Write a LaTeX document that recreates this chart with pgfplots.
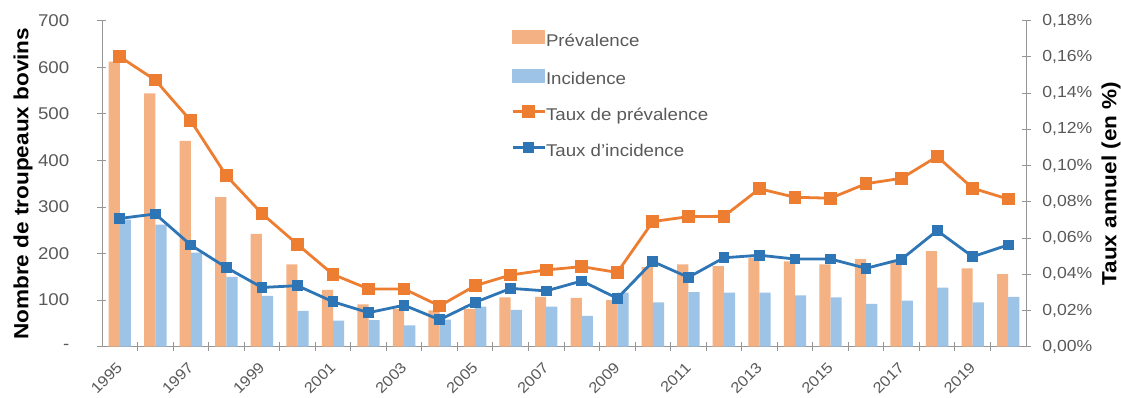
\documentclass[border=0pt]{standalone}
\usepackage{pgfplots}
\usepackage{pgfplotstable}
\pgfplotsset{compat=1.18}
\usepackage{fontspec}
\setmainfont{Liberation Sans}[FakeStretch=1.1]
\setsansfont{Liberation Sans}[FakeStretch=1.1]

\definecolor{prevbar}{RGB}{244,177,131}
\definecolor{incbar}{RGB}{157,195,230}
\definecolor{prevline}{RGB}{237,125,49}
\definecolor{incline}{RGB}{46,117,182}
\definecolor{axisgray}{RGB}{150,150,150}
\definecolor{labelgray}{RGB}{89,89,89}

\pgfplotsset{
  wide line legend/.style={
    legend image code/.code={
      \draw[##1, mark repeat=2, mark phase=2] plot coordinates {(0pt,4.5pt) (16pt,4.5pt) (32pt,4.5pt)};
    }
  },
}

% idx: position on the x axis; prev/inc: number of herds; tprev/tinc: annual rate in %
\pgfplotstableread{
idx year prev inc tprev tinc
0  1995 612 273 0.1601 0.0708
1  1996 544 262 0.1472 0.0733
2  1997 442 202 0.1247 0.0561
3  1998 321 150 0.0944 0.0437
4  1999 242 109 0.0735 0.0327
5  2000 177  77 0.0565 0.0337
6  2001 122  56 0.0399 0.0248
7  2002  91  57 0.0319 0.0188
8  2003  81  46 0.0319 0.0229
9  2004  78  58 0.0225 0.0149
10 2005  81  86 0.0337 0.0245
11 2006 106  79 0.0396 0.0322
12 2007 107  86 0.0424 0.0308
13 2008 105  66 0.0442 0.0363
14 2009 100 116 0.0410 0.0267
15 2010 171  95 0.0691 0.0470
16 2011 177 117 0.0718 0.0383
17 2012 173 116 0.0720 0.0491
18 2013 191 116 0.0872 0.0505
19 2014 183 110 0.0825 0.0484
20 2015 177 106 0.0820 0.0484
21 2016 188  92 0.0900 0.0433
22 2017 185  99 0.0930 0.0483
23 2018 205 127 0.1050 0.0641
24 2019 168  95 0.0875 0.0497
25 2020 156 107 0.0815 0.0562
}\data

\begin{document}
\begin{tikzpicture}[x=1pt,y=1pt]
\useasboundingbox (-102,-51.3) rectangle (1019,346.7);
\pgfplotsset{
  base/.style={
    width=924pt, height=326pt, scale only axis,
    at={(0,0)}, anchor=south west,
    xmin=-0.5, xmax=25.5,
    tick align=center,
    major tick length=9pt,
    minor tick length=9pt,
    axis line style={axisgray, line width=0.9pt},
    tick label style={font=\fontsize{16}{19}\selectfont, text=labelgray},
    clip=false,
  },
}
\begin{axis}[base,
  ymin=0, ymax=700,
  axis x line*=bottom, axis y line*=left,
  ytick={0,100,...,700},
  yticklabels={-,100,200,300,400,500,600,700},
  y tick style={axisgray, line width=0.9pt},
  yticklabel style={font=\fontsize{17}{20}\selectfont, anchor=east, inner sep=0pt, xshift=-28pt},
  xtick={0,2,...,24},
  xticklabels={1995,1997,1999,2001,2003,2005,2007,2009,2011,2013,2015,2017,2019},
  major x tick style={draw=none},
  minor xtick={0.5,1.5,...,24.5},
  minor x tick style={axisgray, line width=0.9pt},
  xticklabel style={font=\fontsize{15}{18}\selectfont, inner sep=0pt, xshift=-4pt, yshift=-10pt, rotate=45, anchor=north east},
  ylabel={Nombre de troupeaux bovins},
  every axis y label/.style={at={(axis description cs:0,0.5)}, xshift=-79pt, rotate=90, anchor=center,
    font=\fontsize{20.5}{24}\selectfont\bfseries, text=black},
]
\addplot[ybar, bar width=11.2pt, bar shift=-5.6pt, fill=prevbar, draw=none] table[x=idx, y=prev]{\data};
\addplot[ybar, bar width=11.2pt, bar shift=5.6pt, fill=incbar, draw=none] table[x=idx, y=inc]{\data};
\end{axis}

\begin{axis}[base,
  ymin=0, ymax=0.18,
  axis x line=none, axis y line*=right,
  ytick={0,0.02,0.04,0.06,0.08,0.10,0.12,0.14,0.16,0.18},
  yticklabels={{0,00\%},{0,02\%},{0,04\%},{0,06\%},{0,08\%},{0,10\%},{0,12\%},{0,14\%},{0,16\%},{0,18\%}},
  y tick style={axisgray, line width=0.9pt},
  yticklabel style={anchor=west, inner sep=0pt, xshift=11.7pt},
  ylabel={Taux annuel (en \%)},
  every axis y label/.style={at={(axis description cs:1,0.5)}, xshift=85pt, rotate=90, anchor=center,
    font=\fontsize{20.5}{24}\selectfont\bfseries, text=black},
  legend cell align=left,
  legend style={draw=none, fill=none, at={(axis description cs:0.4394,0.977)}, anchor=north west,
    font=\fontsize{17}{20}\selectfont, text=labelgray, row sep=19pt, column sep=0pt,
    nodes={inner sep=0pt, text height=12.5pt, text depth=3.5pt}},
]
\addlegendimage{area legend, legend image code/.code={\fill[prevbar] (0pt,-2pt) rectangle (32pt,11pt);}}
\addlegendentry{Prévalence}
\addlegendimage{area legend, legend image code/.code={\fill[incbar] (0pt,-2pt) rectangle (32pt,11pt);}}
\addlegendentry{Incidence}
\addplot[prevline, line width=2.8pt, mark=square*, mark size=5pt, mark options={solid}, wide line legend]
  table[x=idx, y=tprev]{\data};
\addlegendentry{Taux de prévalence}
\addplot[incline, line width=2.8pt, mark=square*, mark size=4pt, mark options={solid}, wide line legend]
  table[x=idx, y=tinc]{\data};
\addlegendentry{Taux d'incidence}
\end{axis}
\end{tikzpicture}
\end{document}
